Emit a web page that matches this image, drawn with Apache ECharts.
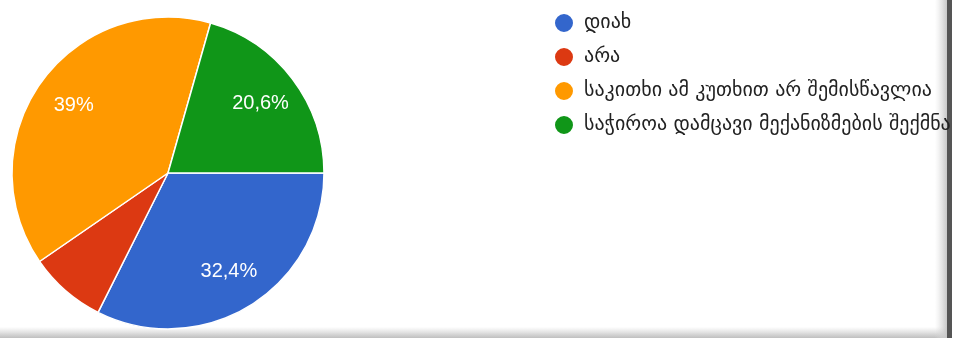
<!DOCTYPE html>
<html>
<head>
<meta charset="utf-8">
<script src="https://cdn.jsdelivr.net/npm/echarts@6/dist/echarts.min.js"></script>
<style>
  html, body { margin: 0; padding: 0; background: #fff; }
  #chart { width: 960px; height: 338px; }
</style>
</head>
<body>
<div id="chart"></div>
<script>
// answers and their shares, in percent
var answers = ['დიახ', 'არა', 'საკითხი ამ კუთხით არ შემისწავლია', 'საჭიროა დამცავი მექანიზმების შექმნა'];
var shares = [32.4, 8, 39, 20.6];
var colors = ['#3366cc', '#dc3912', '#ff9900', '#109618'];

var chart = echarts.init(document.getElementById('chart'));

var pieData = answers.map(function (name, i) {
  return { name: name, value: shares[i] };
});

chart.setOption({
  animation: false,
  color: colors,
  legend: {
    orient: 'vertical',
    left: 548,
    top: 7,
    icon: 'circle',
    itemWidth: 20,
    itemHeight: 20,
    itemGap: 12,
    selectedMode: false,
    textStyle: {
      fontFamily: 'DejaVu Sans',
      fontSize: 20,
      lineHeight: 20,
      color: '#222',
      padding: [0, 0, 0, 5]
    },
    data: answers
  },
  series: [
    {
      type: 'pie',
      center: [168, 173],
      radius: 156,
      startAngle: 0,
      clockwise: true,
      silent: true,
      itemStyle: { borderColor: '#fff', borderWidth: 1.5 },
      label: { show: false },
      labelLine: { show: false },
      data: pieData
    },
    {
      // transparent copy only to place the labels further out
      type: 'pie',
      center: [168, 173],
      radius: [70, 156],
      startAngle: 0,
      clockwise: true,
      silent: true,
      legendHoverLink: false,
      itemStyle: { color: 'rgba(0,0,0,0)' },
      labelLine: { show: false },
      label: {
        position: 'inside',
        color: '#fff',
        fontFamily: 'Arial, Liberation Sans, sans-serif',
        fontSize: 20,
        formatter: function (p) {
          if (p.value < 10) return '';
          return String(p.value).replace('.', ',') + '%';
        }
      },
      data: pieData
    }
  ],
  graphic: [
    {
      type: 'rect',
      shape: { x: 0, y: 327, width: 950, height: 11 },
      style: {
        fill: new echarts.graphic.LinearGradient(0, 0, 0, 1, [
          { offset: 0, color: 'rgba(200,200,200,0)' },
          { offset: 1, color: 'rgba(190,190,190,1)' }
        ])
      }
    },
    {
      type: 'rect',
      shape: { x: 935, y: 0, width: 12, height: 338 },
      style: {
        fill: new echarts.graphic.LinearGradient(0, 0, 1, 0, [
          { offset: 0, color: 'rgba(220,220,220,0)' },
          { offset: 1, color: 'rgba(200,200,200,1)' }
        ])
      }
    },
    {
      type: 'rect',
      shape: { x: 947, y: 0, width: 5, height: 338 },
      style: { fill: '#555' }
    },
    {
      type: 'rect',
      shape: { x: 952, y: 0, width: 8, height: 338 },
      style: { fill: '#fff' }
    }
  ]
});
</script>
</body>
</html>
